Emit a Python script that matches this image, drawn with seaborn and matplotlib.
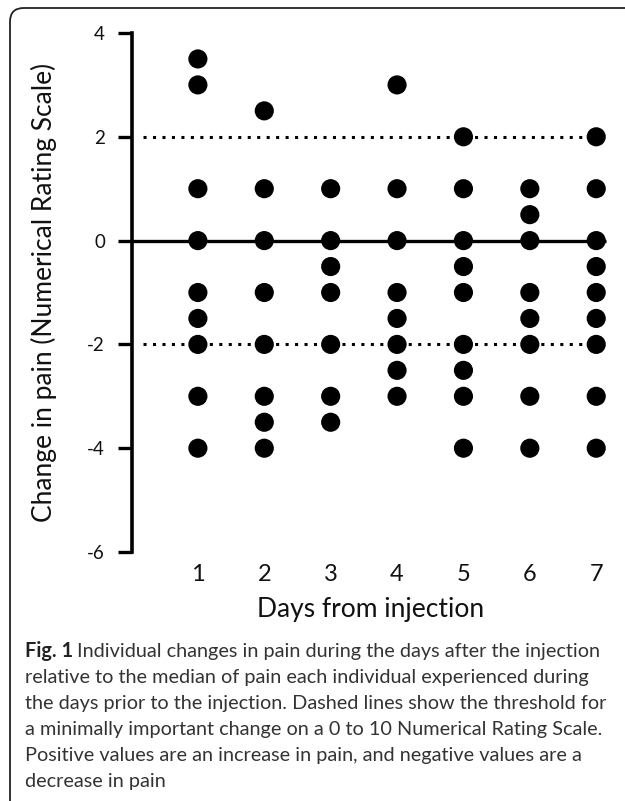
import numpy as np
import pandas as pd
import matplotlib
matplotlib.use("Agg")
import matplotlib.pyplot as plt
import seaborn as sns
from matplotlib.patches import FancyBboxPatch

# ---- data ----
day1 = [3.5, 3, 1, 0, -1, -1.5, -2, -3, -4]
day2 = [2.5, 1, 0, -1, -2, -3, -3.5, -4]
day3 = [1, 0, -0.5, -1, -2, -3, -3.5]
day4 = [3, 1, 0, -1, -1.5, -2, -2.5, -3]
day5 = [2, 1, 0, -0.5, -1, -2, -2.5, -3, -4]
day6 = [1, 0.5, 0, -1, -1.5, -2, -3, -4]
day7 = [2, 1, 0, -0.5, -1, -1.5, -2, -3, -4]
days = [1, 2, 3, 4, 5, 6, 7]
threshold = 2
y_ticks = [-6, -4, -2, 0, 2, 4]

rows = []
for d, vals in zip(days, [day1, day2, day3, day4, day5, day6, day7]):
    for v in vals:
        rows.append({"day": d, "change": v})
df = pd.DataFrame(rows)

sns.set_theme(style="white")
plt.rcParams['font.family'] = ['Lato', 'DejaVu Sans']

W, H = 625, 801
fig = plt.figure(figsize=(W / 100, H / 100), dpi=100)
ax = fig.add_axes([131.5 / W, (H - 552) / H, 478 / W, (552 - 33) / H])

ax.plot([0, 7.15], [0, 0], color="black", lw=2.4, solid_capstyle="butt", zorder=1)
for yv in (threshold, -threshold):
    ax.plot([0.18, 7.15], [yv, yv], color="black", lw=2.2,
            linestyle=(0, (1, 2.1)), dash_capstyle="butt", zorder=1)

sns.scatterplot(data=df, x="day", y="change", ax=ax, marker="o", s=190,
                color="black", edgecolor="none", linewidth=0, zorder=3, legend=False)

ax.set_xlim(0, 7.2)
ax.set_ylim(-6, 4)
ax.set_yticks(y_ticks)
ax.set_yticklabels([str(v) for v in y_ticks])
ax.set_xticks(days)
ax.set_xticklabels([str(d) for d in days])

for s in ["top", "right", "bottom"]:
    ax.spines[s].set_visible(False)
ax.spines["left"].set_linewidth(2.6)
ax.spines["left"].set_color("black")
ax.spines["left"].set_capstyle("projecting")
ax.tick_params(axis="y", length=10, width=2.4, color="black", pad=9,
               labelsize=13.5, labelcolor="#111111", left=True)
ax.tick_params(axis="x", length=0, pad=8.5, labelsize=17, labelcolor="#111111")
ax.set_xlabel("Days from injection", fontsize=19, color="#111111", labelpad=9)
ax.set_ylabel("Change in pain (Numerical Rating Scale)", fontsize=19,
              color="#111111", labelpad=22)
ax.set_facecolor("none")

# border
box = FancyBboxPatch((10 / W, -0.05), 1.1, (H - 8) / H + 0.05,
                     boxstyle="round,pad=0,rounding_size=0.022",
                     transform=fig.transFigure, fill=False, edgecolor="#222222",
                     lw=1.3, mutation_aspect=W / H)
fig.patches.append(box)

cap_lines = [
    "Individual changes in pain during the days after the injection",
    "relative to the median of pain each individual experienced during",
    "the days prior to the injection. Dashed lines show the threshold for",
    "a minimally important change on a 0 to 10 Numerical Rating Scale.",
    "Positive values are an increase in pain, and negative values are a",
    "decrease in pain",
]
x0 = 25 / W
y0 = 657
lh = 26
fs = 14.3
tb = fig.text(x0, 1 - y0 / H, "Fig. 1", fontsize=fs, fontweight="bold",
              color="#222222", va="baseline", ha="left")
fig.canvas.draw()
bb = tb.get_window_extent()
fig.text(bb.x1 / W + 4 / W, 1 - y0 / H, cap_lines[0], fontsize=fs,
         color="#333333", va="baseline", ha="left")
for i, line in enumerate(cap_lines[1:], start=1):
    fig.text(x0, 1 - (y0 + i * lh) / H, line, fontsize=fs, color="#333333",
             va="baseline", ha="left")

fig.savefig("out.png", dpi=100)
